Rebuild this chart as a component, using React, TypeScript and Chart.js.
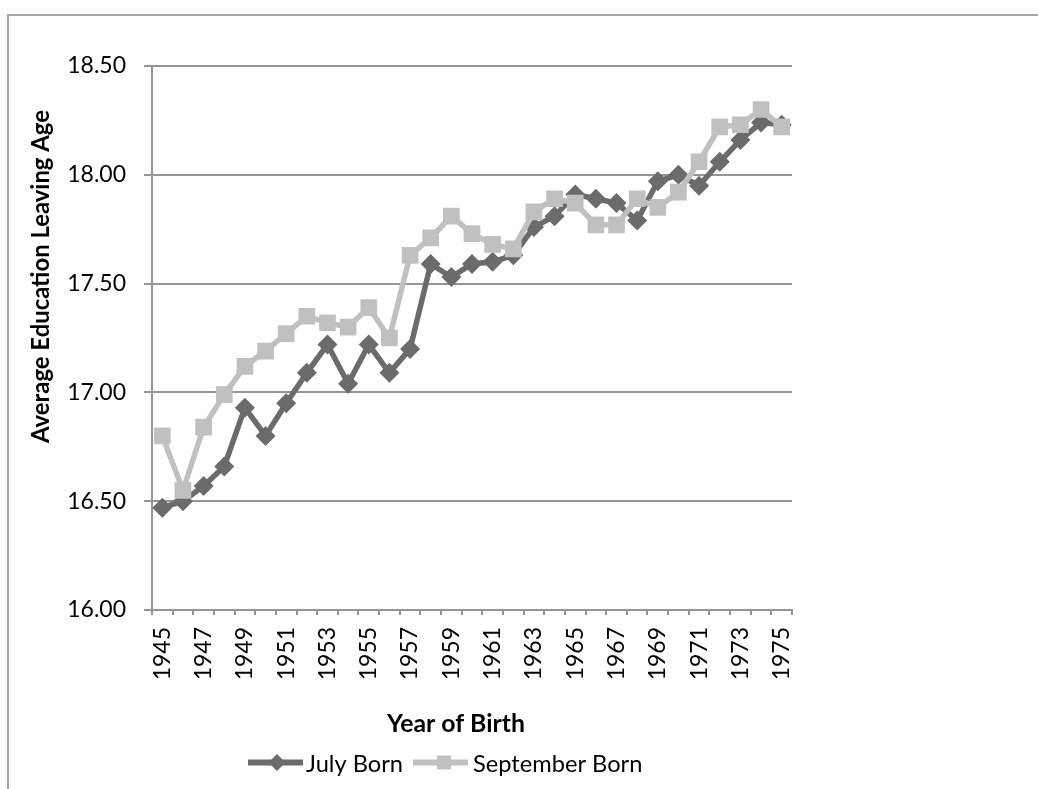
import React, { useEffect, useRef } from "react";
import { Chart, registerables } from "chart.js";

Chart.register(...registerables);

const years = [
  "1945", "1946", "1947", "1948", "1949", "1950", "1951", "1952", "1953", "1954",
  "1955", "1956", "1957", "1958", "1959", "1960", "1961", "1962", "1963", "1964",
  "1965", "1966", "1967", "1968", "1969", "1970", "1971", "1972", "1973", "1974", "1975",
];

const julyBorn = [
  16.47, 16.5, 16.57, 16.66, 16.93, 16.8, 16.95, 17.09, 17.22, 17.04,
  17.22, 17.09, 17.2, 17.59, 17.53, 17.59, 17.6, 17.63, 17.76, 17.81,
  17.91, 17.89, 17.87, 17.79, 17.97, 18.0, 17.95, 18.06, 18.16, 18.24, 18.23,
];

const septemberBorn = [
  16.8, 16.55, 16.84, 16.99, 17.12, 17.19, 17.27, 17.35, 17.32, 17.3,
  17.39, 17.25, 17.63, 17.71, 17.81, 17.73, 17.68, 17.66, 17.83, 17.89,
  17.87, 17.77, 17.77, 17.89, 17.85, 17.92, 18.06, 18.22, 18.23, 18.3, 18.22,
];

const yMin = 16;
const yMax = 18.5;
const yStep = 0.5;

const seriesNames = ["July Born", "September Born"];
const xTitle = "Year of Birth";
const yTitle = "Average Education Leaving Age";

const DARK = "#6b6b6b";
const LIGHT = "#c0c0c0";
const GRID = "#959595";
const FONT = "Lato, 'Open Sans', sans-serif";

function fitFont(ctx: CanvasRenderingContext2D, text: string, weight: string, target: number) {
  ctx.font = `${weight} 100px ${FONT}`;
  const w = ctx.measureText(text).width;
  const size = (100 * target) / w;
  return `${weight} ${size.toFixed(2)}px ${FONT}`;
}

const overlayPlugin = {
  id: "overlayTexts",
  afterDraw(chart: any) {
    const ctx: CanvasRenderingContext2D = chart.ctx;
    ctx.save();
    ctx.fillStyle = "#000";

    // Y axis title
    ctx.save();
    ctx.font = fitFont(ctx, yTitle, "bold", 333);
    ctx.translate(48.5, 276.5);
    ctx.rotate(-Math.PI / 2);
    ctx.textAlign = "center";
    ctx.textBaseline = "alphabetic";
    ctx.fillText(yTitle, 0, 0);
    ctx.restore();

    // X axis title
    ctx.font = fitFont(ctx, xTitle, "bold", 138);
    ctx.textAlign = "left";
    ctx.textBaseline = "alphabetic";
    ctx.fillText(xTitle, 387, 732);

    // Legend
    const ly = 762.5;
    ctx.lineWidth = 6;
    ctx.strokeStyle = DARK;
    ctx.beginPath();
    ctx.moveTo(248, ly);
    ctx.lineTo(303, ly);
    ctx.stroke();
    ctx.fillStyle = DARK;
    ctx.beginPath();
    ctx.moveTo(277 - 8.5, ly);
    ctx.lineTo(277, ly - 8.5);
    ctx.lineTo(277 + 8.5, ly);
    ctx.lineTo(277, ly + 8.5);
    ctx.closePath();
    ctx.fill();

    ctx.strokeStyle = LIGHT;
    ctx.beginPath();
    ctx.moveTo(413, ly);
    ctx.lineTo(468, ly);
    ctx.stroke();
    ctx.fillStyle = LIGHT;
    ctx.fillRect(444 - 7, ly - 7, 14, 14);

    const legendFont = fitFont(ctx, seriesNames[0], "normal", 97);
    ctx.font = legendFont;
    ctx.fillStyle = "#000";
    ctx.fillText(seriesNames[0], 306, 772);
    ctx.fillText(seriesNames[1], 473, 772);

    ctx.restore();
  },
};

export default function App() {
  const canvasRef = useRef<HTMLCanvasElement | null>(null);

  useEffect(() => {
    if (!canvasRef.current) return;
    const tickFont = { family: FONT, size: 23 };
    const chart = new Chart(canvasRef.current, {
      type: "line",
      data: {
        labels: years,
        datasets: [
          {
            label: seriesNames[0],
            data: julyBorn,
            borderColor: DARK,
            backgroundColor: DARK,
            borderWidth: 5.5,
            pointStyle: "rectRot",
            pointRadius: 10,
            pointBorderWidth: 0,
            pointBackgroundColor: DARK,
            tension: 0,
            order: 1,
          },
          {
            label: seriesNames[1],
            data: septemberBorn,
            borderColor: LIGHT,
            backgroundColor: LIGHT,
            borderWidth: 5.5,
            pointStyle: "rect",
            pointRadius: 11.8,
            pointBorderWidth: 0,
            pointBackgroundColor: LIGHT,
            tension: 0,
            order: 0,
          },
        ],
      },
      options: {
        responsive: false,
        animation: false,
        events: [],
        layout: { padding: { left: 0, top: 66, right: 246, bottom: 99 } },
        plugins: {
          legend: { display: false },
          title: { display: false },
          tooltip: { enabled: false },
        },
        scales: {
          x: {
            type: "category",
            offset: true,
            grid: {
              offset: true,
              drawOnChartArea: false,
              drawTicks: true,
              tickLength: 5,
              color: GRID,
              lineWidth: 2,
            },
            border: { color: GRID, width: 2 },
            ticks: {
              autoSkip: false,
              maxRotation: 90,
              minRotation: 90,
              padding: 12,
              color: "#000",
              font: tickFont,
              callback: (_v: any, i: number) => (i % 2 === 0 ? years[i] : ""),
            },
            afterFit: (s: any) => {
              s.height = 80;
            },
          },
          y: {
            min: yMin,
            max: yMax,
            grid: { color: GRID, lineWidth: 2, tickLength: 8 },
            border: { color: GRID, width: 2 },
            ticks: {
              stepSize: yStep,
              padding: 18,
              color: "#000",
              font: tickFont,
              callback: (v: any) => Number(v).toFixed(2),
            },
            afterFit: (s: any) => {
              s.width = 152;
            },
          },
        },
      },
      plugins: [overlayPlugin],
    });
    return () => chart.destroy();
  }, []);

  return (
    <div
      style={{
        position: "fixed",
        left: 0,
        top: 0,
        width: 1038,
        height: 789,
        overflow: "hidden",
        background: "#fff",
      }}
    >
      <div
        style={{
          position: "absolute",
          left: 7,
          top: 14,
          width: 1100,
          height: 900,
          border: "2px solid #a6a6a6",
        }}
      />
      <canvas
        ref={canvasRef}
        width={1038}
        height={789}
        style={{ position: "absolute", left: 0, top: 0, width: 1038, height: 789 }}
      />
    </div>
  );
}
